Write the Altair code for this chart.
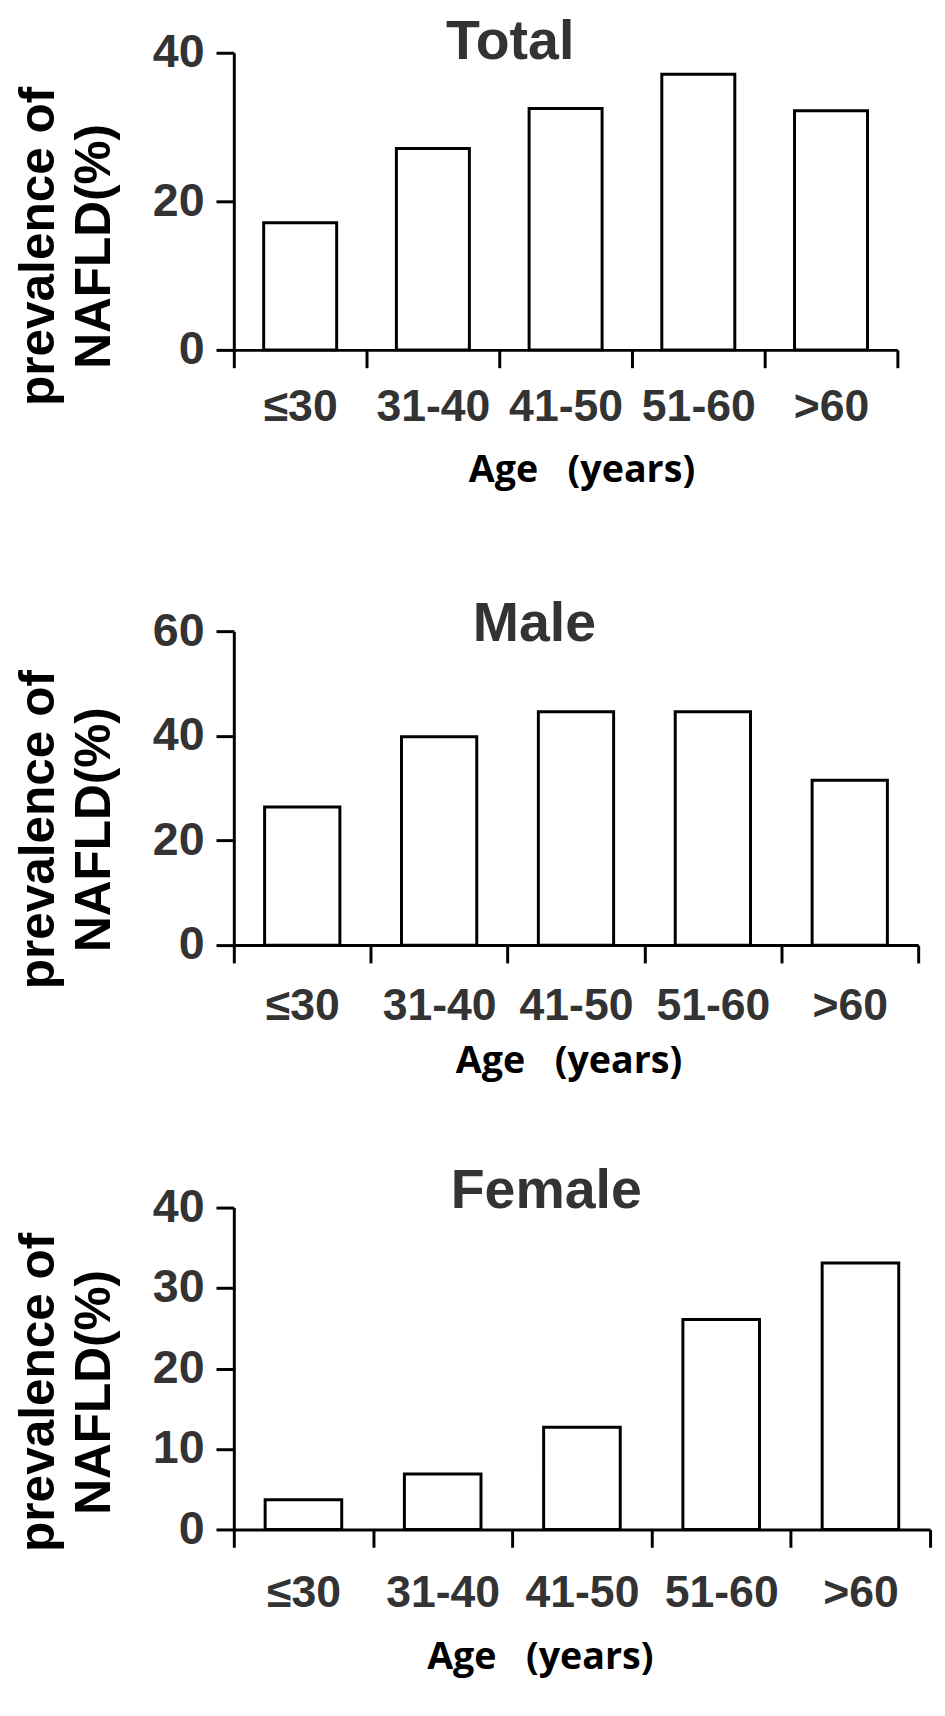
import altair as alt
import pandas as pd

ages = ["≤30", "31-40", "41-50", "51-60", ">60"]
total_vals = [17.1, 27.1, 32.5, 37.1, 32.2]
male_vals = [26.4, 39.8, 44.6, 44.6, 31.5]
female_vals = [3.7, 6.9, 12.7, 26.1, 33.1]

panel_titles = ["Total", "Male", "Female"]
panel_values = [total_vals, male_vals, female_vals]
y_max = [40, 60, 40]
y_ticks = [[0, 20, 40], [0, 20, 40, 60], [0, 10, 20, 30, 40]]
y_axis_title = ["prevalence of", "NAFLD(%)"]
x_axis_title = "Age\u00a0\u00a0\u00a0(years)"

# layout (pixels) per panel
widths = [670, 691, 703]
heights = [300, 317, 325]
title_dx = [-56, -42, -36]
title_dy = [61, 58, 55]
title_offset = [-25, -32, -25]
ytitle_y = [195, 200, 186]
xtitle_x = [351, 338, 309]
xtitle_y = [133, 129, 140]
xlabel_pad = [17, 21, 24]
extra_line = [88, 63, 10]


def panel(i):
    df = pd.DataFrame({"age": ages, "value": panel_values[i]})
    return (
        alt.Chart(df)
        .mark_bar(fill="white", stroke="black", strokeWidth=3,
                  width=alt.RelativeBandSize(0.55))
        .encode(
            x=alt.X(
                "age:N",
                sort=ages,
                scale=alt.Scale(paddingInner=0, paddingOuter=0),
                axis=alt.Axis(
                    title=[x_axis_title, " "],
                    titleLineHeight=extra_line[i],
                    titleFont="Open Sans",
                    titleFontSize=38,
                    titleFontWeight="bold",
                    titleColor="black",
                    titleX=xtitle_x[i],
                    titleY=xtitle_y[i],
                    titleBaseline="alphabetic",
                    titleAlign="center",
                    labelAngle=0,
                    labelFont="Liberation Sans",
                    labelFontSize=45,
                    labelFontWeight="bold",
                    labelColor="#333333",
                    labelPadding=xlabel_pad[i],
                    tickBand="extent",
                    tickSize=18,
                    tickWidth=3,
                    tickColor="black",
                    domainWidth=3,
                    domainColor="black",
                ),
            ),
            y=alt.Y(
                "value:Q",
                scale=alt.Scale(domain=[0, y_max[i]], nice=False),
                axis=alt.Axis(
                    values=y_ticks[i],
                    grid=False,
                    title=y_axis_title,
                    titleFont="Liberation Sans",
                    titleFontSize=50,
                    titleFontWeight="bold",
                    titleColor="black",
                    titleLineHeight=57,
                    titleAngle=270,
                    titleX=-182,
                    titleY=ytitle_y[i],
                    titleBaseline="alphabetic",
                    titleAlign="center",
                    labelFont="Liberation Sans",
                    labelFontSize=47,
                    labelFontWeight="bold",
                    labelColor="#333333",
                    labelPadding=12,
                    tickSize=18,
                    tickWidth=3,
                    tickColor="black",
                    domainWidth=3,
                    domainColor="black",
                ),
            ),
        )
        .properties(
            width=widths[i],
            height=heights[i],
            title=alt.TitleParams(
                panel_titles[i],
                font="Liberation Sans",
                fontSize=56,
                fontWeight="bold",
                color="#333333",
                anchor="middle",
                frame="group",
                dx=title_dx[i],
                dy=title_dy[i],
                offset=title_offset[i],
                baseline="alphabetic",
            ),
        )
    )


chart = (
    alt.vconcat(panel(0), panel(1), panel(2), spacing=20)
    .properties(padding={"left": 6, "top": -2, "right": 5, "bottom": 5})
    .configure(background="white", view=alt.ViewConfig(stroke="transparent", strokeWidth=0))
)

chart.save("out.html", embed_options={"renderer": "svg", "actions": False})
